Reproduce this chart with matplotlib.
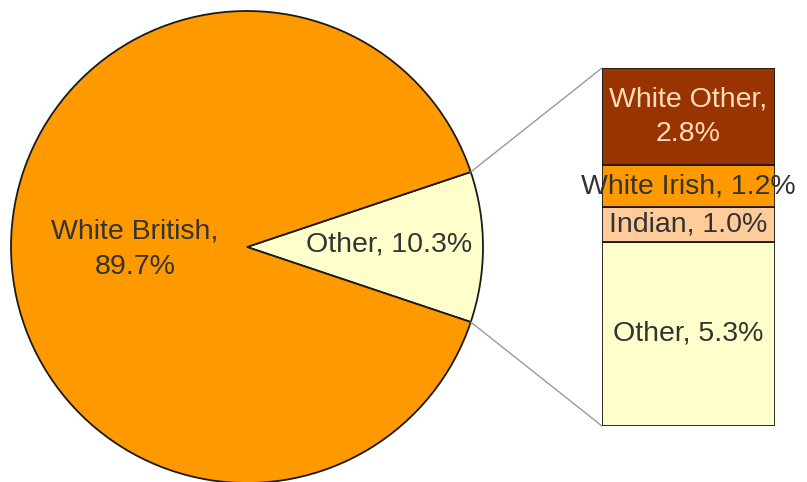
import matplotlib
matplotlib.use("Agg")
import matplotlib.pyplot as plt
from matplotlib.patches import ConnectionPatch
import numpy as np

plt.rcParams['font.family'] = ['Liberation Sans', 'DejaVu Sans']

# Data
pie_labels = ["Other", "White British"]
pie_values = [10.3, 89.7]
pie_colors = ["#FFFFCC", "#FF9900"]

bar_labels = ["Other", "Indian", "White Irish", "White Other"]
bar_values = [5.3, 1.0, 1.2, 2.8]
bar_colors = ["#FFFFCC", "#FFCC99", "#FF9900", "#993300"]
bar_text_colors = ["#333333", "#333333", "#333333", "#FFDDBB"]

W, H = 807, 482
fig = plt.figure(figsize=(W / 100, H / 100), dpi=100)
fig.patch.set_facecolor("white")

# Pie axes: centre (247,247) px, radius 236 px
cx, cy, r = 247, 247, 236
ax_pie = fig.add_axes([(cx - r) / W, (H - cy - r) / H, 2 * r / W, 2 * r / H])
ax_pie.set_xlim(-1, 1)
ax_pie.set_ylim(-1, 1)
ax_pie.axis("off")

other_angle = pie_values[0] / sum(pie_values) * 360
start = -other_angle / 2
wedges, _ = ax_pie.pie(pie_values, colors=pie_colors, startangle=start,
                       radius=1, center=(0, 0), frame=False,
                       wedgeprops=dict(edgecolor="#1a1a1a", linewidth=1.3))
ax_pie.set_xlim(-1, 1)
ax_pie.set_ylim(-1, 1)

FS = 20.5
ax_pie.text(0.60, 0.01, f"{pie_labels[0]}, {pie_values[0]}%", ha="center", va="center",
            fontsize=FS, color="#333333")
ax_pie.text(-0.475, -0.01, f"{pie_labels[1]},\n{pie_values[1]}%", ha="center", va="center",
            fontsize=FS, color="#333333", linespacing=1.45)

# Bar axes: x 602..775, y 68..426 px
bl, br, bt, bb = 602, 775, 68, 426
ax_bar = fig.add_axes([bl / W, (H - bb) / H, (br - bl) / W, (bb - bt) / H])
total = sum(bar_values)
bottom = 0
for lab, val, col, tcol in zip(bar_labels, bar_values, bar_colors, bar_text_colors):
    ax_bar.bar(0, val, width=1.0, bottom=bottom, color=col, edgecolor="#1a1a1a", linewidth=1.3)
    mid = bottom + val / 2
    if lab == "White Other":
        txt = f"{lab},\n{val}%"
    else:
        txt = f"{lab}, {val}%"
    ax_bar.text(0, mid, txt, ha="center", va="center", fontsize=FS, color=tcol,
                linespacing=1.45, clip_on=False)
    bottom += val
ax_bar.set_xlim(-0.5, 0.5)
ax_bar.set_ylim(0, total)
ax_bar.axis("off")

# Connection lines
theta1 = np.deg2rad(start + other_angle)
theta2 = np.deg2rad(start)
for th, yb in [(theta1, total), (theta2, 0)]:
    con = ConnectionPatch(xyA=(np.cos(th), np.sin(th)), coordsA=ax_pie.transData,
                          xyB=(-0.5, yb), coordsB=ax_bar.transData,
                          color="#999999", linewidth=1.0)
    fig.add_artist(con)

fig.savefig("out.png", dpi=100, facecolor="white")
